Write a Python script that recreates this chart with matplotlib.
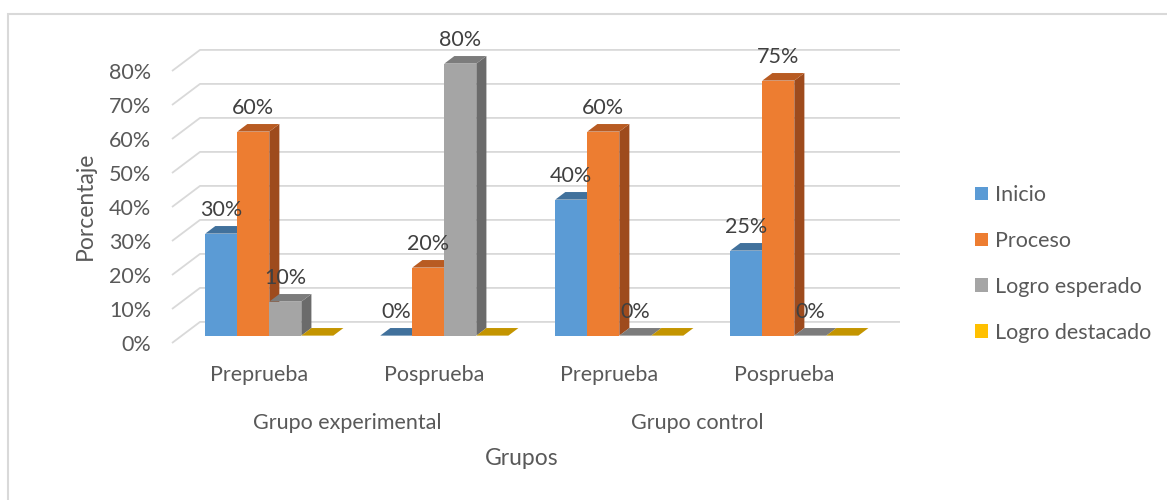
import matplotlib
matplotlib.use("Agg")
import matplotlib.pyplot as plt
from matplotlib.patches import Polygon, Rectangle, Patch
from matplotlib import transforms

# ---- data -------------------------------------------------------------
phases = ["Preprueba", "Posprueba", "Preprueba", "Posprueba"]
groups = ["Grupo experimental", "Grupo control"]
series = ["Inicio", "Proceso", "Logro esperado", "Logro destacado"]
inicio = [30, 0, 40, 25]
proceso = [60, 20, 60, 75]
logro_esperado = [10, 80, 0, 0]
logro_destacado = [0, 0, 0, 0]
values = [inicio, proceso, logro_esperado, logro_destacado]
y_ticks = [0, 10, 20, 30, 40, 50, 60, 70, 80]

# face colours: front, top, side
front_cols = ["#5B9BD5", "#ED7D31", "#A5A5A5", "#FFC000"]
top_cols = ["#41719C", "#B85B22", "#7C7C7C", "#C49500"]
side_cols = ["#3C6A94", "#9E4B1D", "#6B6B6B", "#A67F00"]

W, H = 1167, 500
plt.rcParams["font.family"] = ["Lato", "DejaVu Sans"]
FS = 15.5
TXT = "#595959"
LBL = "#404040"
GRID = "#D9D9D9"

fig = plt.figure(figsize=(W / 100, H / 100), dpi=100)

# oblique depth of the floor (category units, percent units)
DX = 0.16
DY = 6.2
# bars sit part-way into the depth and have their own depth
F0 = 0.35
BD = 0.36
BW = 0.183
n_cat = len(phases)

# axes: front plane spans x -0.5..3.5, y 0..80 ; back wall offset by depth
left_px, right_px = 172, 900
bottom_px = 343
px_per_pct = 3.4
top_px = bottom_px - (80 + DY) * px_per_pct
ax = fig.add_axes([left_px / W, 1 - bottom_px / H,
                   (right_px - left_px) / W, (bottom_px - top_px) / H])
ax.set_xlim(-0.5, n_cat - 0.5 + DX)
ax.set_ylim(0, 80 + DY)
for s in ax.spines.values():
    s.set_visible(False)
ax.patch.set_alpha(0)

# gridlines: diagonal along the side wall, then along the back wall
for v in y_ticks:
    ax.plot([-0.5, -0.5 + DX, n_cat - 0.5 + DX], [v, v + DY, v + DY],
            color=GRID, lw=1.3, zorder=1, clip_on=False, solid_capstyle="butt")

ax.set_yticks(y_ticks)
ax.set_yticklabels([f"{v}%" for v in y_ticks], color=TXT, fontsize=FS)
ax.tick_params(axis="y", length=0, pad=15)
ax.set_xticks([])

base = F0 * DY
ddx, ddy = BD * DX, BD * DY
z = 2
for i in range(n_cat):
    for j in range(len(series)):
        v = values[j][i]
        x0 = i - 2 * BW + j * BW + F0 * DX
        x1 = x0 + BW
        top = base + v
        side = Polygon([(x1, base), (x1, top), (x1 + ddx, top + ddy), (x1 + ddx, base + ddy)],
                       closed=True, facecolor=side_cols[j], edgecolor="none",
                       zorder=z, clip_on=False)
        lid = Polygon([(x0, top), (x1, top), (x1 + ddx, top + ddy), (x0 + ddx, top + ddy)],
                      closed=True, facecolor=top_cols[j], edgecolor="none",
                      zorder=z, clip_on=False)
        ax.add_patch(side)
        ax.add_patch(lid)
        if v > 0:
            ax.add_patch(Rectangle((x0, base), BW, v, facecolor=front_cols[j],
                                   edgecolor="none", zorder=z + 0.5, clip_on=False))
        z += 1
        if j < 3:
            ax.annotate(f"{v}%", xy=((x0 + x1) / 2, top), xytext=(0, 17),
                        textcoords="offset points", ha="center", va="center",
                        fontsize=FS, color=LBL, zorder=100, annotation_clip=False)

# category, group and axis titles
bt = transforms.blended_transform_factory(ax.transData, fig.transFigure)
for i, name in enumerate(phases):
    ax.text(i, 1 - 381 / H, name, transform=bt, ha="center", va="baseline",
            fontsize=FS, color=TXT)
for g, name in enumerate(groups):
    ax.text(2 * g + 0.5, 1 - 429 / H, name, transform=bt, ha="center",
            va="baseline", fontsize=FS, color=TXT)
ax.text(1.5, 1 - 465 / H, "Grupos", transform=bt, ha="center", va="baseline",
        fontsize=FS + 1, color=TXT)
fig.text(85 / W, 1 - 206 / H, "Porcentaje", rotation=90, ha="center",
         va="center", fontsize=FS + 1, color=TXT)

# legend
handles = [Patch(facecolor=c, edgecolor="none") for c in front_cols]
fig.legend(handles, series, loc="center left",
           bbox_to_anchor=(956 / W, 1 - 264 / H), frameon=False,
           handlelength=0.6, handleheight=0.6, handletextpad=0.3,
           labelspacing=1.2, fontsize=FS, labelcolor=TXT)

# chart frame
fig.patches.append(Rectangle((8 / W, -0.1), 1.2, 1.1 - 14 / H, transform=fig.transFigure,
                             fill=False, edgecolor=GRID, lw=1.5))

fig.savefig("out.png", dpi=100)
